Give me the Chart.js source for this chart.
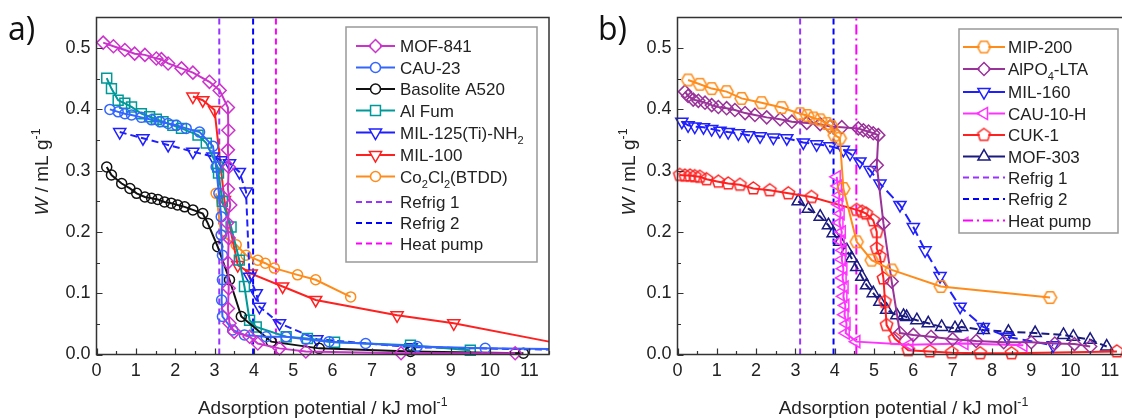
<!DOCTYPE html>
<html>
<head>
<meta charset="utf-8">
<script src="https://cdn.jsdelivr.net/npm/chart.js@4"></script>
<style>
html, body { margin: 0; padding: 0; background: #fff; overflow: hidden; width: 1122px; height: 418px; }
#wrapA { position: absolute; left: 0; top: 0; width: 575px; height: 418px; }
#wrapB { position: absolute; left: 590px; top: 0; width: 560px; height: 418px; }
</style>
</head>
<body>
<div id="wrapA"><canvas id="chartA" width="575" height="418"></canvas></div>
<div id="wrapB"><canvas id="chartB" width="560" height="418"></canvas></div>
<script>
// ---- panel a data (x: adsorption potential kJ/mol, y: W mL/g)
const mof841X = [0.17, 0.43, 0.72, 0.97, 1.23, 1.52, 1.65, 1.82, 2.16, 2.45, 2.87, 3.13, 3.34, 3.35, 3.34, 3.36, 3.34, 3.40, 3.32, 3.36, 3.34, 3.36, 3.34, 3.38, 3.50, 3.89, 4.10, 4.65, 5.32, 7.74, 10.64];
const mof841Y = [0.509, 0.503, 0.497, 0.491, 0.489, 0.483, 0.482, 0.475, 0.467, 0.460, 0.445, 0.431, 0.403, 0.366, 0.334, 0.306, 0.270, 0.244, 0.215, 0.190, 0.150, 0.108, 0.075, 0.051, 0.037, 0.029, 0.018, 0.010, 0.005, 0.002, 0.002];
const cau23X = [0.34, 0.55, 0.72, 0.89, 1.14, 1.40, 1.61, 1.82, 2.03, 2.28, 2.62, 2.96, 3.04, 3.11, 3.17, 3.17, 3.20, 3.20, 3.18, 3.20, 3.46, 3.76, 4.31, 4.82, 5.32, 5.91, 6.84, 8.15, 9.88, 11.5];
const cau23Y = [0.400, 0.396, 0.393, 0.391, 0.387, 0.383, 0.380, 0.377, 0.374, 0.369, 0.363, 0.340, 0.306, 0.263, 0.225, 0.195, 0.162, 0.122, 0.089, 0.062, 0.040, 0.032, 0.029, 0.029, 0.025, 0.021, 0.018, 0.013, 0.010, 0.009];
const basoliteX = [0.26, 0.38, 0.64, 0.85, 1.02, 1.23, 1.40, 1.56, 1.73, 1.90, 2.06, 2.24, 2.45, 2.70, 2.83, 3.08, 3.38, 3.68, 4.44, 5.66, 7.98, 10.85];
const basoliteY = [0.306, 0.293, 0.279, 0.271, 0.263, 0.257, 0.255, 0.253, 0.249, 0.247, 0.244, 0.241, 0.236, 0.230, 0.214, 0.176, 0.122, 0.062, 0.021, 0.010, 0.005, 0.002];
const alFumX = [0.26, 0.38, 0.55, 0.72, 0.89, 1.14, 1.35, 1.52, 1.69, 1.94, 2.16, 2.58, 2.79, 3.08, 3.10, 3.20, 3.42, 3.63, 3.76, 3.89, 4.06, 4.82, 5.36, 6.05, 7.98, 9.50];
const alFumY = [0.451, 0.434, 0.415, 0.410, 0.404, 0.393, 0.388, 0.384, 0.380, 0.374, 0.369, 0.358, 0.345, 0.306, 0.296, 0.250, 0.208, 0.154, 0.111, 0.056, 0.045, 0.029, 0.026, 0.020, 0.015, 0.007];
const mil125X = [0.59, 1.18, 1.82, 2.45, 2.96, 3.17, 3.38, 3.63, 3.80, 3.89, 4.06, 4.14, 4.65, 5.60, 8.00, 11.5];
const mil125Y = [0.363, 0.353, 0.342, 0.331, 0.323, 0.317, 0.312, 0.298, 0.266, 0.127, 0.100, 0.078, 0.051, 0.025, 0.012, 0.008];
const mil100X = [2.45, 2.70, 3.00, 3.25, 3.59, 3.93, 4.73, 5.57, 7.64, 9.08, 11.5];
const mil100Y = [0.421, 0.415, 0.399, 0.252, 0.146, 0.132, 0.111, 0.089, 0.064, 0.051, 0.021];
const co2X = [3.04, 3.17, 3.55, 3.80, 4.10, 4.29, 4.52, 5.11, 5.57, 6.46];
const co2Y = [0.263, 0.195, 0.179, 0.162, 0.154, 0.149, 0.141, 0.130, 0.122, 0.094];
const refA = [3.12, 3.98, 4.56];
const labelsA = ['MOF-841', 'CAU-23', 'Basolite A520', 'Al Fum', 'MIL-125(Ti)-NH_{2}', 'MIL-100', 'Co_{2}Cl_{2}(BTDD)', 'Refrig 1', 'Refrig 2', 'Heat pump'];

// ---- panel b data
const mip200X = [0.27, 0.57, 0.87, 1.25, 1.63, 2.14, 2.65, 3.12, 3.30, 3.46, 3.63, 3.80, 3.92, 4.00, 4.13, 4.22, 4.56, 4.94, 5.45, 6.70, 9.48];
const mip200Y = [0.448, 0.441, 0.434, 0.429, 0.418, 0.411, 0.403, 0.393, 0.390, 0.386, 0.383, 0.377, 0.372, 0.358, 0.353, 0.271, 0.184, 0.154, 0.138, 0.111, 0.093];
const alpoX = [0.19, 0.27, 0.40, 0.53, 0.70, 0.87, 1.04, 1.25, 1.46, 1.72, 1.97, 2.27, 2.61, 2.91, 3.29, 3.63, 3.88, 4.18, 4.60, 4.73, 4.86, 4.98, 5.11, 5.07, 5.24, 5.45, 5.66, 6.00, 6.45, 7.00, 7.60, 8.30, 9.00, 9.60, 10.10, 10.50];
const alpoY = [0.429, 0.422, 0.416, 0.414, 0.411, 0.407, 0.404, 0.402, 0.399, 0.394, 0.391, 0.387, 0.384, 0.380, 0.378, 0.376, 0.372, 0.371, 0.369, 0.366, 0.364, 0.361, 0.358, 0.309, 0.214, 0.119, 0.035, 0.032, 0.029, 0.025, 0.022, 0.020, 0.020, 0.018, 0.017, 0.013];
const mil160X = [0.11, 0.27, 0.44, 0.66, 0.87, 1.08, 1.29, 1.55, 1.80, 2.10, 2.44, 2.78, 3.20, 3.54, 3.88, 4.22, 4.39, 4.64, 4.90, 5.15, 5.66, 6.00, 6.30, 6.68, 7.19, 7.78, 8.38, 9.56];
const mil160Y = [0.380, 0.374, 0.372, 0.371, 0.368, 0.365, 0.363, 0.361, 0.358, 0.356, 0.354, 0.353, 0.346, 0.343, 0.340, 0.334, 0.328, 0.315, 0.301, 0.279, 0.244, 0.208, 0.170, 0.128, 0.078, 0.045, 0.029, 0.015];
const cau10X = [4.05, 4.08, 4.12, 4.10, 4.15, 4.12, 4.18, 4.15, 4.20, 4.18, 4.22, 4.20, 4.25, 4.22, 4.27, 4.25, 4.30, 4.28, 4.55, 5.90, 7.30, 8.80];
const cau10Y = [0.290, 0.275, 0.260, 0.245, 0.230, 0.215, 0.200, 0.185, 0.170, 0.155, 0.140, 0.125, 0.110, 0.095, 0.080, 0.065, 0.050, 0.035, 0.021, 0.016, 0.018, 0.015];
const cuk1X = [0.06, 0.19, 0.32, 0.44, 0.57, 0.74, 1.04, 1.29, 1.59, 1.93, 2.35, 2.82, 3.41, 4.56, 4.70, 4.80, 4.98, 5.07, 5.07, 5.15, 5.24, 5.28, 5.32, 5.53, 5.87, 6.42, 6.98, 7.70, 8.50, 11.18];
const cuk1Y = [0.293, 0.292, 0.292, 0.291, 0.290, 0.286, 0.282, 0.279, 0.277, 0.271, 0.268, 0.263, 0.257, 0.236, 0.233, 0.230, 0.219, 0.200, 0.173, 0.160, 0.124, 0.086, 0.048, 0.026, 0.007, 0.005, 0.003, 0.002, 0.002, 0.005];
const mof303X = [3.07, 3.33, 3.63, 3.84, 3.96, 4.13, 4.31, 4.43, 4.56, 4.69, 4.81, 4.98, 5.15, 5.32, 5.58, 5.75, 5.83, 6.09, 6.38, 6.72, 7.06, 7.23, 7.78, 8.42, 9.10, 9.82, 10.07, 10.50, 10.92];
const mof303Y = [0.250, 0.238, 0.225, 0.211, 0.198, 0.184, 0.170, 0.157, 0.143, 0.127, 0.113, 0.100, 0.086, 0.073, 0.064, 0.063, 0.061, 0.056, 0.051, 0.045, 0.043, 0.045, 0.040, 0.037, 0.035, 0.032, 0.029, 0.024, 0.013];
const refB = [3.12, 3.97, 4.55];
const labelsB = ['MIP-200', 'AlPO_{4}-LTA', 'MIL-160', 'CAU-10-H', 'CUK-1', 'MOF-303', 'Refrig 1', 'Refrig 2', 'Heat pump'];

const FONT = "'Liberation Sans', Arial, sans-serif";

function pts(xs, ys) { return xs.map((x, i) => ({ x: x, y: ys[i] })); }

// hollow polygon marker (pentagon / hexagon) as an image point style
function polyMarker(n, r, color, rot) {
  const c = document.createElement('canvas');
  const s = Math.ceil(2 * r + 4);
  c.width = s; c.height = s;
  const g = c.getContext('2d');
  g.strokeStyle = color; g.lineWidth = 1.5;
  g.beginPath();
  for (let i = 0; i < n; i++) {
    const a = rot + i * 2 * Math.PI / n;
    const px = s / 2 + r * Math.cos(a), py = s / 2 + r * Math.sin(a);
    if (i) g.lineTo(px, py); else g.moveTo(px, py);
  }
  g.closePath(); g.stroke();
  return c;
}

// hide the marker of a trailing point that only extends the line to the frame
const lastHidden = r => c => (c.dataIndex === c.dataset.data.length - 1 ? 0 : r);

function series(label, xs, ys, color, style, r, rot, extra) {
  return Object.assign({
    label: label, data: pts(xs, ys), showLine: true,
    borderColor: color, borderWidth: 2, backgroundColor: 'rgba(0,0,0,0)',
    pointStyle: style, pointRadius: r, pointRotation: rot,
    pointBorderColor: color, pointBorderWidth: 1.5, pointBackgroundColor: 'rgba(0,0,0,0)',
    markerR: r, clip: 10
  }, extra || {});
}

function refLine(label, x, color, dash) {
  return {
    label: label, data: [{ x: x, y: 0 }, { x: x, y: 0.55 }], showLine: true,
    borderColor: color, borderWidth: 2, borderDash: dash, pointRadius: 0, clip: 0, isRef: true
  };
}

function richParts(str) {
  const parts = [], re = /([_^*])\{([^}]*)\}/g;
  let last = 0, m;
  while ((m = re.exec(str))) {
    if (m.index > last) parts.push({ t: str.slice(last, m.index), k: '' });
    parts.push({ t: m[2], k: m[1] });
    last = re.lastIndex;
  }
  if (last < str.length) parts.push({ t: str.slice(last), k: '' });
  return parts;
}

function richDraw(ctx, str, x, y, size, align) {
  const parts = richParts(str);
  const fontOf = p => (p.k === '*' ? 'italic ' : '') + (p.k === '_' || p.k === '^' ? size * 0.65 : size) + 'px ' + FONT;
  let w = 0;
  parts.forEach(p => { ctx.font = fontOf(p); w += ctx.measureText(p.t).width; });
  let cx = align === 'center' ? x - w / 2 : x;
  ctx.textAlign = 'left'; ctx.textBaseline = 'alphabetic';
  parts.forEach(p => {
    ctx.font = fontOf(p);
    const dy = p.k === '_' ? size * 0.3 : (p.k === '^' ? -size * 0.42 : 0);
    ctx.fillText(p.t, cx, y + dy);
    cx += ctx.measureText(p.t).width;
  });
}

function drawMarker(ctx, ds, x, y) {
  const style = ds.pointStyle, r = ds.markerR;
  ctx.save();
  ctx.fillStyle = '#fff';
  ctx.beginPath(); ctx.arc(x, y, 4.5, 0, 2 * Math.PI); ctx.fill();
  if (style instanceof HTMLCanvasElement) {
    ctx.drawImage(style, x - style.width / 2, y - style.height / 2);
    ctx.restore(); return;
  }
  ctx.translate(x, y); ctx.rotate((ds.pointRotation || 0) * Math.PI / 180);
  ctx.beginPath();
  if (style === 'circle') ctx.arc(0, 0, r, 0, 2 * Math.PI);
  else if (style === 'rectRot') { ctx.moveTo(-r, 0); ctx.lineTo(0, -r); ctx.lineTo(r, 0); ctx.lineTo(0, r); ctx.closePath(); }
  else if (style === 'rect') { const s = r * Math.SQRT1_2; ctx.rect(-s, -s, 2 * s, 2 * s); }
  else if (style === 'triangle') {
    for (let k = 0; k < 3; k++) {
      const a = k * 2 * Math.PI / 3;
      if (k) ctx.lineTo(Math.sin(a) * r, -Math.cos(a) * r); else ctx.moveTo(Math.sin(a) * r, -Math.cos(a) * r);
    }
    ctx.closePath();
  }
  ctx.strokeStyle = ds.borderColor; ctx.lineWidth = 1.5; ctx.stroke();
  ctx.restore();
}

// frame, inward ticks, legend, axis titles and panel letter
const deco = {
  id: 'deco',
  afterDatasetsDraw(chart, args, o) {
    const ctx = chart.ctx, a = chart.chartArea, xs = chart.scales.x, ys = chart.scales.y;
    ctx.save();
    ctx.strokeStyle = '#333'; ctx.lineWidth = 1.2; ctx.setLineDash([]);
    ctx.beginPath();
    for (let i = 0; i <= 23; i++) {
      const px = Math.round(xs.getPixelForValue(i * 0.5)) + 0.5, L = i % 2 ? 3.5 : 6;
      ctx.moveTo(px, a.bottom); ctx.lineTo(px, a.bottom - L);
    }
    for (let i = 0; i <= 10; i++) {
      const py = Math.round(ys.getPixelForValue(i * 0.05)) + 0.5, L = i % 2 ? 3.5 : 6;
      ctx.moveTo(a.left, py); ctx.lineTo(a.left + L, py);
    }
    ctx.stroke();
    ctx.lineWidth = 1.5;
    ctx.strokeRect(a.left, a.top, a.right - a.left, a.bottom - a.top);

    // legend
    const lg = o.legend;
    ctx.fillStyle = '#fff'; ctx.fillRect(lg.x, lg.y, lg.w, lg.h);
    ctx.strokeStyle = '#999'; ctx.lineWidth = 1.5; ctx.strokeRect(lg.x, lg.y, lg.w, lg.h);
    chart.data.datasets.forEach((ds, i) => {
      const y = lg.rows[i];
      ctx.save();
      ctx.strokeStyle = ds.borderColor; ctx.lineWidth = 2;
      ctx.setLineDash(ds.isRef ? ds.borderDash : []);
      ctx.beginPath(); ctx.moveTo(lg.lx1, y); ctx.lineTo(lg.lx2, y); ctx.stroke();
      ctx.restore();
      if (!ds.isRef) drawMarker(ctx, ds, (lg.lx1 + lg.lx2) / 2, y);
      ctx.fillStyle = '#222';
      richDraw(ctx, ds.label, lg.tx, y + 6, 17, 'left');
    });

    // axis titles
    ctx.fillStyle = '#222';
    richDraw(ctx, 'Adsorption potential / kJ mol^{-1}', (a.left + a.right) / 2, 414, 19, 'center');
    ctx.save();
    ctx.translate(o.yTitleX, 172); ctx.rotate(-Math.PI / 2);
    richDraw(ctx, '*{W} / mL g^{-1}', 0, 6.5, 19, 'center');
    ctx.restore();

    ctx.font = "32px 'Open Sans', 'DejaVu Sans', sans-serif";
    ctx.textAlign = 'left'; ctx.textBaseline = 'alphabetic';
    ctx.fillStyle = '#111';
    ctx.fillText(o.letter, 8, 40);
    ctx.restore();
  }
};

function makeOptions(yWidth, padRight, decoOpts) {
  const tickFont = { family: FONT, size: 18 };
  return {
    responsive: false, animation: false, events: [],
    layout: { padding: { left: 0, right: padRight, top: 17.5, bottom: 0 } },
    scales: {
      x: {
        type: 'linear', min: 0, max: 11.5,
        afterFit: s => { s.height = 63.5; },
        grid: { display: false, drawTicks: false }, border: { display: false },
        ticks: {
          stepSize: 1, includeBounds: false, autoSkip: false, maxRotation: 0, padding: 6, color: '#222', font: tickFont,
          callback: v => (Math.abs(v - Math.round(v)) < 1e-6 ? String(Math.round(v)) : '')
        }
      },
      y: {
        type: 'linear', min: 0, max: 0.55,
        afterFit: s => { s.width = yWidth; },
        grid: { display: false, drawTicks: false }, border: { display: false },
        ticks: {
          stepSize: 0.1, includeBounds: false, padding: 6, color: '#222', font: tickFont,
          callback: v => (Math.abs(v * 10 - Math.round(v * 10)) < 1e-6 ? v.toFixed(1) : '')
        }
      }
    },
    plugins: { legend: { display: false }, tooltip: { enabled: false }, deco: decoOpts }
  };
}

const datasetsA = [
  series(labelsA[0], mof841X, mof841Y, '#cc33cc', 'rectRot', 6.5, 0),
  series(labelsA[1], cau23X, cau23Y, '#3366ff', 'circle', 5, 0, { pointRadius: lastHidden(5) }),
  series(labelsA[2], basoliteX, basoliteY, '#111111', 'circle', 5, 0),
  series(labelsA[3], alFumX, alFumY, '#009999', 'rect', 7, 0),
  series(labelsA[4], mil125X, mil125Y, '#1f1fff', 'triangle', 7, 180, { borderDash: [7, 4], pointRadius: lastHidden(7) }),
  series(labelsA[5], mil100X, mil100Y, '#ff2020', 'triangle', 7, 180, { pointRadius: lastHidden(7) }),
  series(labelsA[6], co2X, co2Y, '#ff8c1a', 'circle', 5, 0),
  refLine(labelsA[7], refA[0], '#9933ff', [6, 4]),
  refLine(labelsA[8], refA[1], '#0000ff', [6, 4]),
  refLine(labelsA[9], refA[2], '#ff00ff', [6, 4])
];

const datasetsB = [
  series(labelsB[0], mip200X, mip200Y, '#ff8c1a', polyMarker(6, 6.5, '#ff8c1a', 0), 6.5, 0),
  series(labelsB[1], alpoX, alpoY, '#993399', 'rectRot', 6.5, 0),
  series(labelsB[2], mil160X, mil160Y, '#1f1fff', 'triangle', 7, 180, { borderDash: [10, 5] }),
  series(labelsB[3], cau10X, cau10Y, '#ff33ff', 'triangle', 7, 270),
  series(labelsB[4], cuk1X, cuk1Y, '#ff2020', polyMarker(5, 6.5, '#ff2020', -Math.PI / 2), 6.5, 0),
  series(labelsB[5], mof303X, mof303Y, '#1a1a80', 'triangle', 7, 0, { borderDash: [8, 4] }),
  refLine(labelsB[6], refB[0], '#9933ff', [6, 4]),
  refLine(labelsB[7], refB[1], '#0000ff', [6, 4]),
  refLine(labelsB[8], refB[2], '#ff00ff', [10, 4, 2, 4])
];

new Chart(document.getElementById('chartA').getContext('2d'), {
  type: 'scatter',
  data: { datasets: datasetsA },
  options: makeOptions(96.5, 26, {
    letter: 'a)', yTitleX: 41,
    legend: { x: 346, y: 27, w: 191, h: 235, lx1: 356, lx2: 395, tx: 400,
      rows: [46, 67.5, 89, 110.5, 132.5, 155, 176.5, 202, 223, 243.5] }
  }),
  plugins: [deco]
});

new Chart(document.getElementById('chartB').getContext('2d'), {
  type: 'scatter',
  data: { datasets: datasetsB },
  options: makeOptions(87.5, 20.5, {
    letter: 'b)', yTitleX: 38,
    legend: { x: 369, y: 29, w: 159, h: 204, lx1: 373, lx2: 415, tx: 418,
      rows: [47, 69, 92, 113.5, 135, 156.5, 177.5, 199, 220.5] }
  }),
  plugins: [deco]
});
</script>
</body>
</html>
